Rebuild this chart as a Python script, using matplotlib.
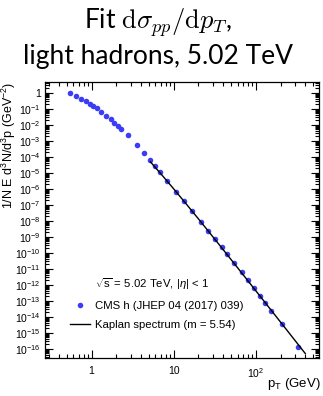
import numpy as np
import matplotlib
matplotlib.use('Agg')
import matplotlib.pyplot as plt
from matplotlib.ticker import LogLocator, FuncFormatter, NullFormatter

plt.rcParams['font.family'] = ['Liberation Sans', 'DejaVu Sans']
plt.rcParams['mathtext.fontset'] = 'custom'
plt.rcParams['mathtext.rm'] = 'Liberation Sans'
plt.rcParams['mathtext.it'] = 'Liberation Sans:italic'
plt.rcParams['mathtext.sf'] = 'Liberation Sans'

# CMS charged hadrons, pp 5.02 TeV, |eta| < 1 (bin centres in GeV)
pt = [0.55, 0.65, 0.75, 0.85, 0.95, 1.05, 1.15, 1.3, 1.5, 1.7, 1.9, 2.1, 2.3,
      2.8, 3.6, 4.4, 5.2, 6.0, 6.8, 8.4, 10.8, 13.2, 16.8, 21.6, 26.4, 32.0,
      38.4, 44.8, 54.4, 67.2, 80.0, 95.0, 112.0, 130.4, 152.5, 207.5, 325.0]
yield_inv = [0.92, 0.62, 0.42, 0.29, 0.197, 0.141, 0.106, 0.065, 0.0365, 0.0228,
             0.0133, 0.0083, 0.0056, 0.0023, 5.6e-4, 1.63e-4, 6.0e-5, 2.5e-5,
             1.1e-5, 3.0e-6, 6.0e-7, 1.7e-7, 4.2e-8, 8.7e-9, 2.4e-9, 7.5e-10,
             2.4e-10, 7.9e-11, 2.3e-11, 6.0e-12, 1.9e-12, 6.0e-13, 2.0e-13,
             6.9e-14, 2.4e-14, 3.6e-15, 1.2e-16]

# Kaplan fit parameters
kap_m = 5.54
kap_A = 13.7
kap_p0 = 0.84
kap_range = (5.2, 400.0)

fig = plt.figure(figsize=(3.23, 3.96), dpi=100)
ax = fig.add_axes([0.139, 0.096, 0.849, 0.698])

ax.plot(pt, yield_inv, 'o', color='#3c3cf5', markersize=4, markeredgewidth=0,
        label='CMS h (JHEP 04 (2017) 039)', zorder=2)

xf = np.geomspace(*kap_range, 200)
yf = kap_A / xf * (1 + xf / kap_p0) ** (-kap_m)
ax.plot(xf, yf, color='black', lw=1.0, label='Kaplan spectrum (m = %.2f)' % kap_m, zorder=3)

ax.set_xscale('log')
ax.set_yscale('log')
ax.set_xlim(0.27, 590)
ax.set_ylim(2.6e-17, 4.9)

def log_label(v, pos):
    e = int(round(np.log10(v)))
    if e == 0:
        return '1'
    if e == 1:
        return '10'
    return r'$10^{%d}$' % e

ax.xaxis.set_major_locator(LogLocator(base=10, numticks=30))
ax.xaxis.set_minor_locator(LogLocator(base=10, subs=np.arange(2, 10), numticks=30))
ax.yaxis.set_major_locator(LogLocator(base=10, numticks=40))
ax.yaxis.set_minor_locator(LogLocator(base=10, subs=np.arange(2, 10), numticks=40))
ax.xaxis.set_major_formatter(FuncFormatter(log_label))
ax.yaxis.set_major_formatter(FuncFormatter(log_label))
ax.xaxis.set_minor_formatter(NullFormatter())
ax.yaxis.set_minor_formatter(NullFormatter())

ax.tick_params(which='both', direction='in', top=True, right=True, labelsize=7.5, width=0.8)
ax.tick_params(which='major', length=5.5, pad=3)
ax.tick_params(which='minor', length=3)
ax.tick_params(axis='x', pad=6)
for s in ax.spines.values():
    s.set_linewidth(0.9)

ax.set_ylabel(r'1/N E d$^{3}$N/d$^{3}$p (GeV$^{-2}$)', fontsize=9, loc='top')
ax.yaxis.set_label_coords(-0.097, 1.0)
ax.set_xlabel(r'p$_{\mathrm{T}}$ (GeV)', fontsize=9.5, loc='right')
ax.xaxis.set_label_coords(1.007, -0.065)

header, = ax.plot([], [], ' ', label=r'$\sqrt{\mathrm{s}}$ = 5.02 TeV, |$\eta$| < 1')
handles, labels = ax.get_legend_handles_labels()
order = [2, 0, 1]
ax.legend([handles[i] for i in order], [labels[i] for i in order],
          loc='lower left', bbox_to_anchor=(0.091, 0.1), frameon=False,
          fontsize=8.2, handlelength=1.75, handletextpad=0.45, labelspacing=0.8,
          borderpad=0, borderaxespad=0)

fig.text(0.488, 0.929, r'Fit $\mathrm{d}\sigma_{pp}/\mathrm{d}p_T$,', ha='center',
         va='baseline', fontsize=19, family='Lato', math_fontfamily='cm')
fig.text(0.488, 0.838, 'light hadrons, 5.02 TeV', ha='center', va='baseline',
         fontsize=19, family='Lato')

fig.savefig('out.png', dpi=100)
